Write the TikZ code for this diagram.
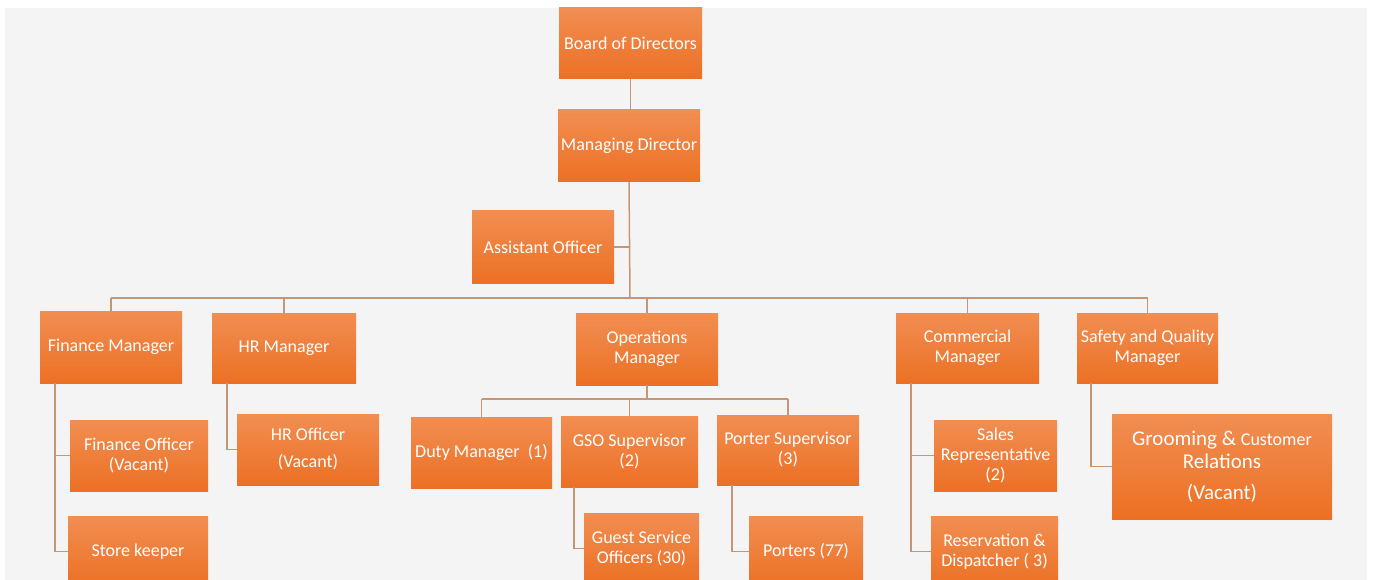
\documentclass[tikz,border=0pt]{standalone}
\usepackage{fontspec}
\setmainfont{Carlito}
\usepackage{tikz}
\usetikzlibrary{positioning, calc}

\definecolor{boxtop}{RGB}{241,142,82}
\definecolor{boxbottom}{RGB}{236,112,36}
\definecolor{linkcol}{RGB}{196,150,118}
\definecolor{paper}{RGB}{244,244,244}

\newcommand{\boxfont}{\fontsize{18}{20}\selectfont}

\begin{document}
\begin{tikzpicture}[
    x=1pt, y=-1pt,
    post/.style={rectangle, top color=boxtop, bottom color=boxbottom, text=white,
        font=\boxfont, align=center, inner sep=2pt, minimum width=142pt, minimum height=71pt},
    link/.style={draw=linkcol, line width=1.5pt}
]
    \useasboundingbox (0,0) rectangle (1373,580);
    \clip (0,0) rectangle (1373,580);
    \fill[paper] (5,8) rectangle (1367,580);

    % top of the chart
    \node[post, minimum width=143pt] (bod) at (630.5,43.5) {Board of Directors};
    \node[post, minimum height=72pt] (md) at (629,146) {Managing Director};
    \node[post, minimum height=72pt] (asst) at (543,247) {Assistant Officer};

    % managers
    \node[post, minimum height=72pt] (fm) at (111,347) {Finance Manager};
    \node[post, minimum width=144pt, minimum height=70pt] (hr) at (284,348) {HR Manager};
    \node[post, minimum height=72pt] (ops) at (647,349) {Operations\\Manager};
    \node[post, minimum width=143pt, minimum height=70pt] (com) at (967.5,348) {Commercial\\Manager};
    \node[post, minimum width=141pt, minimum height=70pt] (saf) at (1147.5,348) {Safety and Quality\\Manager};

    % staff
    \node[post, minimum width=138pt] (fo) at (139,455.5) {Finance Officer\\(Vacant)};
    \node[post, minimum width=140pt] (sk) at (138,551.5) {Store keeper};
    \node[post] (hro) at (308,449.5) {HR Officer\\[7pt](Vacant)};
    \node[post, minimum width=141pt] (duty) at (481.5,452.5) {Duty Manager\ \ (1)};
    \node[post, minimum width=137pt] (gso) at (629.5,451.5) {GSO Supervisor\\(2)};
    \node[post, minimum height=70pt] (psup) at (788,450) {Porter Supervisor\\(3)};
    \node[post, minimum width=115pt] (gsoo) at (641.5,548.5) {Guest Service\\Officers (30)};
    \node[post, minimum width=114pt] (porters) at (806,551.5) {Porters (77)};
    \node[post, minimum width=123pt] (sales) at (995.5,455.5) {Sales\\Representative\\(2)};
    \node[post, minimum width=127pt] (res) at (994.5,551.5) {Reservation \&\\Dispatcher ( 3)};
    \node[post, minimum width=220pt, minimum height=105pt, font=\fontsize{21}{23}\selectfont] (groom) at (1222,466.5)
        {Grooming \& {\boxfont Customer}\\Relations\\[8pt](Vacant)};

    \coordinate (bus) at (630,298);
    \coordinate (opsbus) at (647,399);

    \draw[link] (bod.south) -- (bod.south |- md.north);
    \draw[link] (md.south) -- (bus);
    \draw[link] (asst.east) -- (asst.east -| md.south);
    \draw[link] (bus -| fm.north) -- (bus -| saf.north);
    \foreach \m in {fm, hr, ops, com, saf}
        \draw[link] (bus -| \m.north) -- (\m.north);

    \draw[link] ([xshift=15pt]fm.south west) |- (fo.west);
    \draw[link] ([xshift=15pt]fm.south west) |- (sk.west);
    \draw[link] ([xshift=15pt]hr.south west) |- (hro.west);

    \draw[link] (ops.south) -- (opsbus);
    \draw[link] (opsbus -| duty.north) -- (opsbus -| psup.north);
    \foreach \m in {duty, gso, psup}
        \draw[link] (opsbus -| \m.north) -- (\m.north);
    \draw[link] ([xshift=13pt]gso.south west) |- (gsoo.west);
    \draw[link] ([xshift=15pt]psup.south west) |- (porters.west);

    \draw[link] ([xshift=15pt]com.south west) |- (sales.west);
    \draw[link] ([xshift=15pt]com.south west) |- (res.west);
    \draw[link] ([xshift=14pt]saf.south west) |- (groom.west);
\end{tikzpicture}
\end{document}
